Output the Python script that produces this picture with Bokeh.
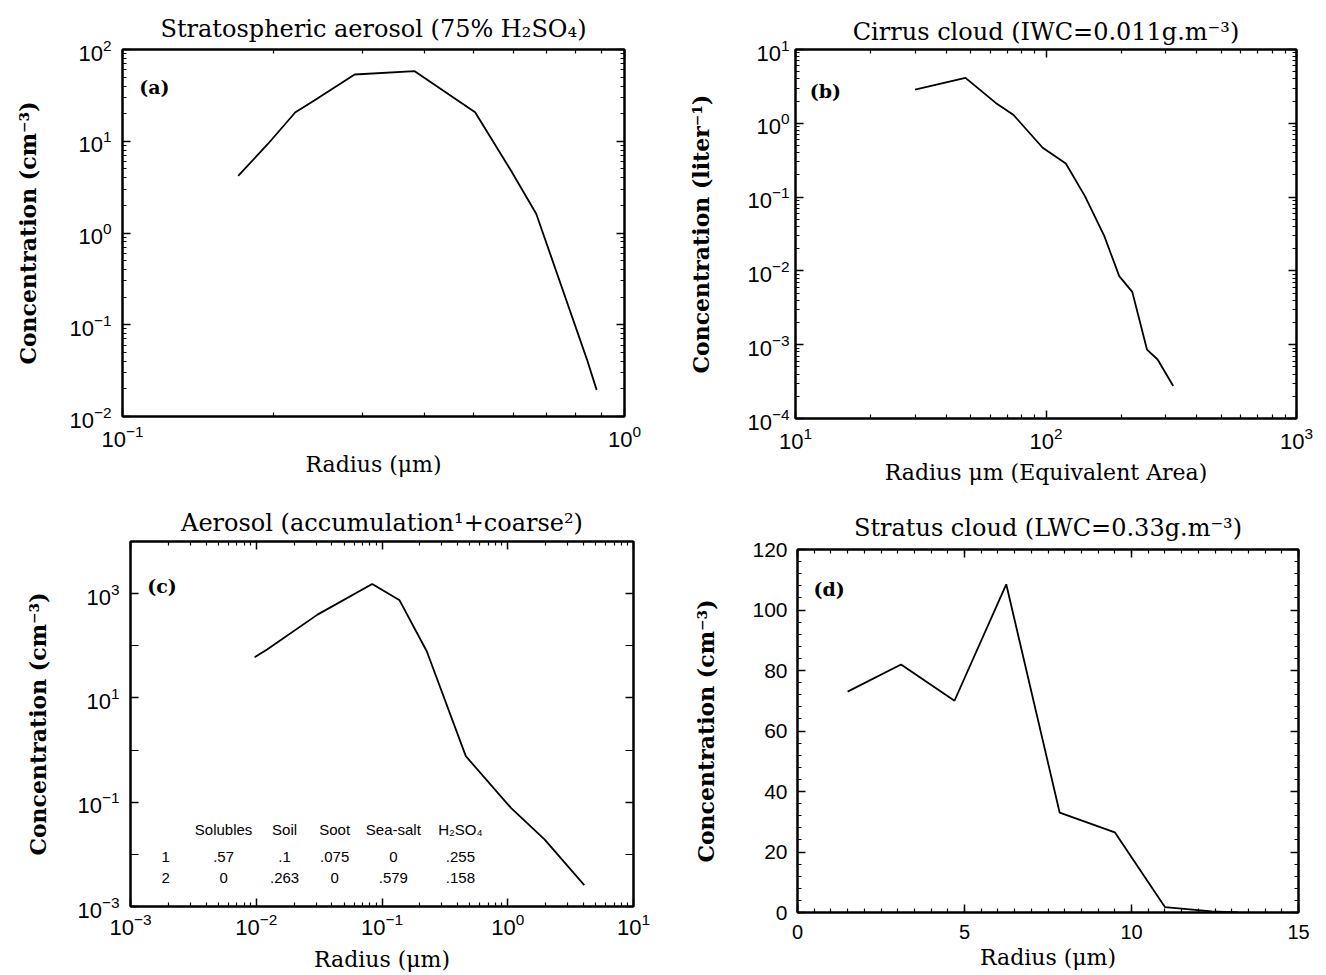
from bokeh.plotting import figure
from bokeh.layouts import column, row, Spacer
from bokeh.models import (LogAxis, LinearAxis, FixedTicker, SingleIntervalTicker,
                          Label, Range1d, CustomJSTickFormatter)
from bokeh.core.properties import value
from bokeh.embed import file_html
from bokeh.resources import INLINE

SERIF = "DejaVu Serif"
SANS = "Liberation Sans"

# ---------------- data ----------------
# (a) Stratospheric aerosol
a_radius = [0.170, 0.195, 0.221, 0.241, 0.290, 0.382, 0.504, 0.594, 0.667, 0.841, 0.880]
a_conc = [4.2, 9.4, 20.7, 27.8, 53.4, 58.0, 20.7, 4.8, 1.62, 0.0425, 0.0195]

# (b) Cirrus cloud
b_radius = [30, 47.7, 63, 74, 97, 120, 143, 171, 196, 221, 253, 279, 322]
b_conc = [2.87, 4.13, 1.89, 1.31, 0.466, 0.285, 0.103, 0.0295, 0.0085, 0.0052,
          0.00086, 0.00063, 0.000275]

# (c) Aerosol accumulation + coarse
c_radius = [0.0097, 0.0122, 0.0307, 0.0836, 0.138, 0.227, 0.464, 1.06, 1.96, 4.06]
c_conc = [60, 84.5, 396, 1528, 745, 78.5, 0.764, 0.078, 0.0194, 0.00258]

# (d) Stratus cloud
d_radius = [1.5, 3.1, 4.7, 6.25, 7.85, 9.5, 11.0, 12.4, 13.2]
d_conc = [73, 82, 70, 108.5, 33, 26.5, 1.8, 0.4, 0.0]

# composition table of panel (c)
table_cols = ["Solubles", "Soil", "Soot", "Sea-salt", "H\u2082SO\u2084"]
table_rows = ["1", "2"]
table_vals = [[".57", ".1", ".075", "0", ".255"],
              ["0", ".263", "0", ".579", ".158"]]

titles = ["Stratospheric aerosol (75% H\u2082SO\u2084)",
          "Cirrus cloud (IWC=0.011g.m\u207b\u00b3)",
          "Aerosol (accumulation\u00b9+coarse\u00b2)",
          "Stratus cloud (LWC=0.33g.m\u207b\u00b3)"]
xlabels = ["Radius (\u03bcm)", "Radius \u03bcm (Equivalent Area)",
           "Radius (\u03bcm)", "Radius (\u03bcm)"]
ylabels = ["Concentration (cm\u207b\u00b3)", "Concentration (liter\u207b\u00b9)",
           "Concentration (cm\u207b\u00b3)", "Concentration (cm\u207b\u00b3)"]
panel_tags = ["(a)", "(b)", "(c)", "(d)"]


def decade_minors(lo_exp, hi_exp):
    return [m * 10.0 ** e for e in range(lo_exp, hi_exp) for m in range(2, 10)]


a_x_major = [0.1, 1.0]
a_y_major = [1e-2, 1e-1, 1e0, 1e1, 1e2]
b_x_major = [10, 100, 1000]
b_y_major = [1e-4, 1e-3, 1e-2, 1e-1, 1e0, 1e1]
c_x_major = [1e-3, 1e-2, 1e-1, 1e0, 1e1]
c_y_major = [1e-3, 1e-1, 1e1, 1e3]      # labelled decades
c_y_minor = [1e-2, 1e0, 1e2, 1e4]       # unlabelled decades


# ---------------- helpers ----------------
def make_fig(xtype, ytype, xr, yr, fw, fh, bl, br, bt, bb, title, title_standoff):
    p = figure(x_axis_type=xtype, y_axis_type=ytype, x_range=xr, y_range=yr,
               frame_width=fw, frame_height=fh,
               min_border_left=bl, min_border_right=br,
               min_border_top=bt, min_border_bottom=bb,
               x_axis_location=None, y_axis_location=None,
               toolbar_location=None, output_backend="svg")
    p.grid.visible = False
    p.outline_line_color = "black"
    p.outline_line_width = 2
    p.title.text = title
    p.title.align = "center"
    p.title.text_font = SERIF
    p.title.text_font_size = "24px"
    p.title.text_font_style = "normal"
    p.title.text_color = "black"
    p.title.standoff = title_standoff
    return p


def mk_axis(cls, ticker, show, label=None, bold=False, label_size="22px",
            standoff=8, label_standoff=4, minor_len=4, tick_size="22px"):
    ax = cls(ticker=ticker)
    ax.axis_line_width = 2
    ax.axis_line_color = "black"
    ax.major_tick_in = 8
    ax.major_tick_out = 0
    ax.minor_tick_in = minor_len
    ax.minor_tick_out = 0
    ax.major_tick_line_width = 1.5
    ax.minor_tick_line_width = 1.2
    ax.major_tick_line_color = "black"
    ax.minor_tick_line_color = "black"
    ax.major_label_text_font = SANS
    ax.major_label_text_color = "black"
    if show:
        ax.major_label_text_font_size = tick_size
        ax.major_label_standoff = standoff
    else:
        ax.formatter = CustomJSTickFormatter(code="return ''")
        ax.major_label_text_font_size = "1px"
        ax.major_label_standoff = 0
    if label:
        ax.axis_label = label
        ax.axis_label_text_font = SERIF
        ax.axis_label_text_font_size = label_size
        ax.axis_label_text_font_style = "bold" if bold else "normal"
        ax.axis_label_standoff = label_standoff
        ax.axis_label_text_color = "black"
    return ax


def add_tag(p, x, y, text):
    p.add_layout(Label(x=x, y=y, text=text, text_font=SERIF, text_font_style="bold",
                       text_font_size="19px", text_baseline="middle",
                       text_align="left", text_color="black"))


# ---------------- panel (a) ----------------
pa = make_fig("log", "log", Range1d(0.1, 1.0), Range1d(1e-2, 1e2),
              502, 367, 122, 56, 49, 72, titles[0], 14)
for side, show in (("below", True), ("above", False)):
    pa.add_layout(mk_axis(LogAxis, FixedTicker(ticks=a_x_major, minor_ticks=decade_minors(-1, 0)),
                          show, xlabels[0] if show else None, standoff=8, label_standoff=2), side)
for side, show in (("left", True), ("right", False)):
    pa.add_layout(mk_axis(LogAxis, FixedTicker(ticks=a_y_major, minor_ticks=decade_minors(-2, 2)),
                          show, ylabels[0] if show else None, bold=True, standoff=11,
                          label_standoff=25), side)
pa.line(a_radius, a_conc, line_color="black", line_width=1.8)
add_tag(pa, 0.108, 39.5, panel_tags[0])

# ---------------- panel (b) ----------------
pb = make_fig("log", "log", Range1d(10, 1000), Range1d(1e-4, 1e1),
              501, 369, 115, 28, 49, 70, titles[1], 7)
for side, show in (("below", True), ("above", False)):
    pb.add_layout(mk_axis(LogAxis, FixedTicker(ticks=b_x_major, minor_ticks=decade_minors(1, 3)),
                          show, xlabels[1] if show else None, standoff=8, label_standoff=8), side)
for side, show in (("left", True), ("right", False)):
    pb.add_layout(mk_axis(LogAxis, FixedTicker(ticks=b_y_major, minor_ticks=decade_minors(-4, 1)),
                          show, ylabels[1] if show else None, bold=True, standoff=6,
                          label_standoff=30), side)
pb.line(b_radius, b_conc, line_color="black", line_width=1.8)
add_tag(pb, 11.4, 2.78, panel_tags[1])

# ---------------- panel (c) ----------------
pc = make_fig("log", "log", Range1d(1e-3, 1e1), Range1d(1e-3, 1e4),
              503, 365, 130, 47, 53, 67, titles[2], 9)
for side, show in (("below", True), ("above", False)):
    pc.add_layout(mk_axis(LogAxis, FixedTicker(ticks=c_x_major, minor_ticks=decade_minors(-3, 1)),
                          show, xlabels[2] if show else None, standoff=6, label_standoff=9), side)
for side, show in (("left", True), ("right", False)):
    pc.add_layout(mk_axis(LogAxis, FixedTicker(ticks=c_y_major, minor_ticks=c_y_minor),
                          show, ylabels[2] if show else None, bold=True, standoff=11,
                          label_standoff=23, minor_len=8), side)
pc.line(c_radius, c_conc, line_color="black", line_width=1.8)
add_tag(pc, 0.00136, 1380, panel_tags[2])

# table inside (c)
col_x = [0.0055, 0.0168, 0.042, 0.123, 0.42]
row_label_x = 0.0019
header_y = 0.030
row_y = [0.0089, 0.00355]
tx, ty, tt = [], [], []
for j, name in enumerate(table_cols):
    tx.append(col_x[j]); ty.append(header_y); tt.append(name)
for i, rname in enumerate(table_rows):
    tx.append(row_label_x); ty.append(row_y[i]); tt.append(rname)
    for j, v in enumerate(table_vals[i]):
        tx.append(col_x[j]); ty.append(row_y[i]); tt.append(v)
pc.text(x=tx, y=ty, text=tt, text_align="center", text_baseline="middle",
        text_font=value(SANS), text_font_size="15px", text_color="black")

# ---------------- panel (d) ----------------
pd = make_fig("linear", "linear", Range1d(0, 15), Range1d(0, 120),
              501, 363, 117, 26, 53, 61, titles[3], 15)
for side, show in (("below", True), ("above", False)):
    pd.add_layout(mk_axis(LinearAxis, SingleIntervalTicker(interval=5, num_minor_ticks=10),
                          show, xlabels[3] if show else None, standoff=12, label_standoff=3,
                          tick_size="20px"), side)
for side, show in (("left", True), ("right", False)):
    pd.add_layout(mk_axis(LinearAxis, SingleIntervalTicker(interval=20, num_minor_ticks=5),
                          show, ylabels[3] if show else None, bold=True, standoff=10,
                          label_standoff=30, tick_size="21px"), side)
pd.line(d_radius, d_conc, line_color="black", line_width=1.8)
add_tag(pd, 0.48, 107, panel_tags[3])

layout = column(row(pa, pb), row(pc, column(Spacer(width=644, height=8), pd)))
open("out.html", "w").write(file_html(layout, INLINE))
